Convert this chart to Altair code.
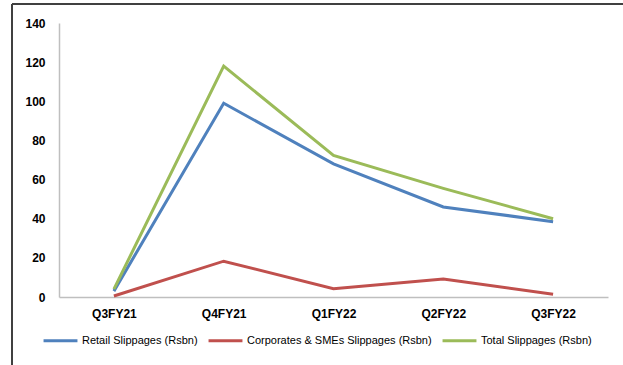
import altair as alt
import pandas as pd

quarters = ["Q3FY21", "Q4FY21", "Q1FY22", "Q2FY22", "Q3FY22"]
retail = [3, 99, 68, 46, 38.5]
corporate = [0.5, 18.3, 4.2, 9.2, 1.4]
total = [4, 118, 72.3, 55.5, 40]
series_names = [
    "Retail Slippages (Rsbn)",
    "Corporates & SMEs Slippages (Rsbn)",
    "Total Slippages (Rsbn)",
]
colors = ["#4F81BD", "#C0504D", "#9BBB59"]

rows = []
for name, vals in zip(series_names, [retail, corporate, total]):
    for q, v in zip(quarters, vals):
        rows.append({"quarter": q, "value": v, "series": name})
df = pd.DataFrame(rows)

W, H = 549, 274

lines = alt.Chart(df).mark_line(strokeWidth=3, clip=False).encode(
    x=alt.X("quarter:N", sort=quarters, title=None,
            scale=alt.Scale(paddingInner=0, paddingOuter=0.5),
            axis=alt.Axis(labelAngle=0, ticks=False, domainColor="#BFBFBF",
                          domainWidth=1.5, labelFontSize=12, labelFontWeight="bold",
                          labelFont="Liberation Sans", labelColor="#000000",
                          labelPadding=11, grid=False)),
    y=alt.Y("value:Q", title=None,
            scale=alt.Scale(domain=[0, 140], nice=False),
            axis=alt.Axis(values=[0, 20, 40, 60, 80, 100, 120, 140], ticks=False,
                          domainColor="#BFBFBF", domainWidth=1.5, labelFontSize=12,
                          labelFontWeight="bold", labelFont="Liberation Sans",
                          labelColor="#000000", labelPadding=14, grid=False)),
    color=alt.Color("series:N", sort=series_names,
                    scale=alt.Scale(domain=series_names, range=colors),
                    legend=alt.Legend(title=None, orient="none", direction="horizontal",
                                      legendX=-17, legendY=299,
                                      symbolType="stroke", symbolStrokeWidth=3,
                                      symbolSize=1150, labelFontSize=11,
                                      labelFont="Liberation Sans", labelColor="#000000",
                                      labelLimit=400,
                                      columnPadding=4, symbolOffset=0, labelOffset=3)),
)

frame_top = alt.Chart(pd.DataFrame({"a": [0]})).mark_rule(color="#404040", strokeWidth=2).encode(
    x=alt.value(-47), x2=alt.value(W + 40), y=alt.value(-19)
)
frame_left = alt.Chart(pd.DataFrame({"a": [0]})).mark_rule(color="#404040", strokeWidth=2).encode(
    x=alt.value(-47), y=alt.value(-19), y2=alt.value(H + 80)
)

chart = alt.layer(frame_top, frame_left, lines).properties(
    width=W, height=H,
    autosize=alt.AutoSizeParams(type="none"),
    padding={"left": 59, "top": 23, "right": 15, "bottom": 68},
    background="white",
).configure_view(stroke=None)

chart.save("out.html", embed_options={"renderer": "svg", "actions": False})
